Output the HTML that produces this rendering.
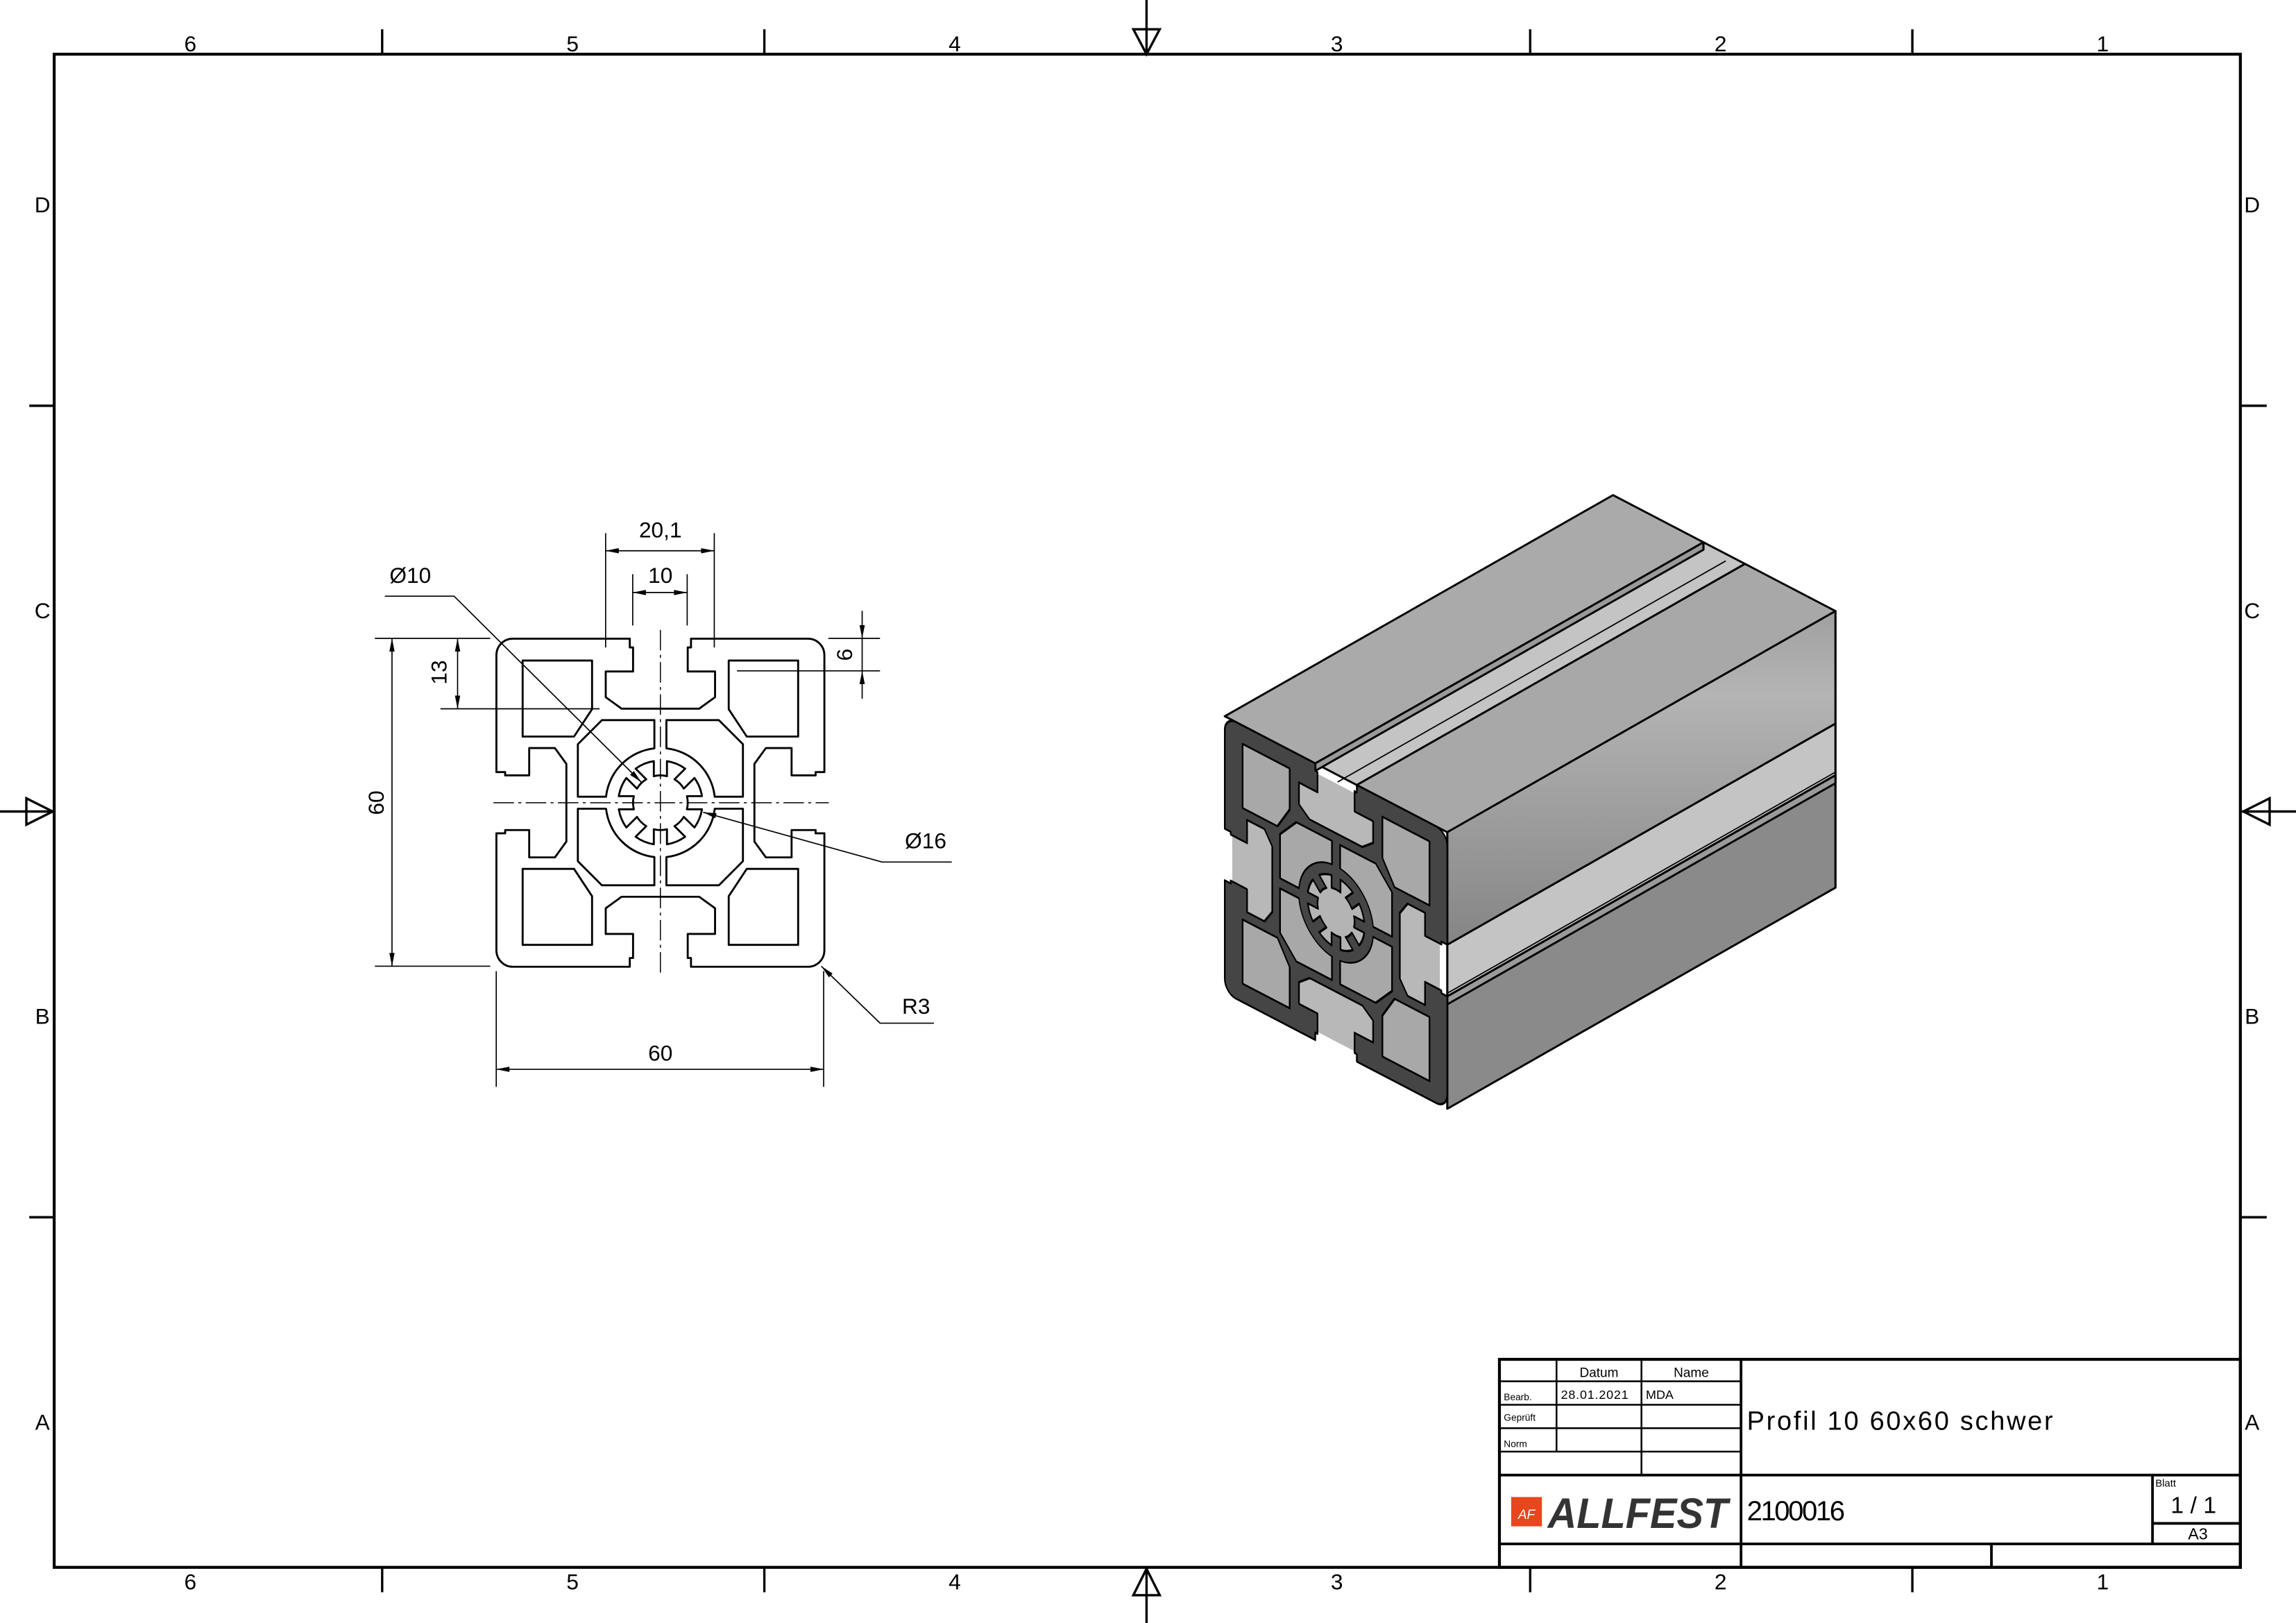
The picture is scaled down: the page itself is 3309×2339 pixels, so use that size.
<!DOCTYPE html>
<html><head><meta charset="utf-8"><style>
html,body{margin:0;padding:0;background:#fff}
svg{display:block}
text{font-family:"Liberation Sans","DejaVu Sans",sans-serif;fill:#000}
</style></head><body>
<svg width="3309" height="2339" viewBox="0 0 1568 1108" preserveAspectRatio="none" xmlns="http://www.w3.org/2000/svg">
<rect width="1568" height="1108" fill="#fff"/>
<g stroke="#000" fill="none">
<rect x="37" y="37" width="1493" height="1033" stroke-width="2"/>
<g stroke-width="1.6">
<line x1="261" y1="20" x2="261" y2="37"/><line x1="522" y1="20" x2="522" y2="37"/><line x1="1045" y1="20" x2="1045" y2="37"/><line x1="1306" y1="20" x2="1306" y2="37"/>
<line x1="261" y1="1070" x2="261" y2="1087"/><line x1="522" y1="1070" x2="522" y2="1087"/><line x1="1045" y1="1070" x2="1045" y2="1087"/><line x1="1306" y1="1070" x2="1306" y2="1087"/>
<line x1="20" y1="277" x2="37" y2="277"/><line x1="20" y1="831" x2="37" y2="831"/>
<line x1="1530" y1="277" x2="1548" y2="277"/><line x1="1530" y1="831" x2="1548" y2="831"/>
<line x1="783" y1="0" x2="783" y2="37"/><polygon points="774,20 792,20 783,37"/>
<line x1="783" y1="1070" x2="783" y2="1108"/><polygon points="774,1089 792,1089 783,1071"/>
<line x1="0" y1="554" x2="37" y2="554"/><polygon points="18,545 18,563 36,554"/>
<line x1="1530" y1="554" x2="1568" y2="554"/><polygon points="1550,545 1550,563 1532,554"/>
</g></g>
<g font-size="15" text-anchor="middle">
<text x="130" y="35">6</text><text x="391" y="35">5</text><text x="652" y="35">4</text><text x="913" y="35">3</text><text x="1175" y="35">2</text><text x="1436" y="35">1</text>
<text x="130" y="1085">6</text><text x="391" y="1085">5</text><text x="652" y="1085">4</text><text x="913" y="1085">3</text><text x="1175" y="1085">2</text><text x="1436" y="1085">1</text>
<text x="29" y="145">D</text><text x="29" y="422">C</text><text x="29" y="699">B</text><text x="29" y="976">A</text>
<text x="1538" y="145">D</text><text x="1538" y="422">C</text><text x="1538" y="699">B</text><text x="1538" y="976">A</text>
</g>

<defs>
<path id="outer" d="M -27,-30 L -5.6,-30 L -5.6,-28.4 L -5,-28.4 L -5,-24 L -10,-24 L -10,-19.3 L -7.1,-17.2 L 7.1,-17.2 L 10,-19.3 L 10,-24 L 5,-24 L 5,-28.4 L 5.6,-28.4 L 5.6,-30 L 27,-30 A 3 3 0 0 1 30,-27
L 30,-5.6 L 28.4,-5.6 L 28.4,-5 L 24,-5 L 24,-10 L 19.3,-10 L 17.2,-7.1 L 17.2,7.1 L 19.3,10 L 24,10 L 24,5 L 28.4,5 L 28.4,5.6 L 30,5.6 L 30,27 A 3 3 0 0 1 27,30
L 5.6,30 L 5.6,28.4 L 5,28.4 L 5,24 L 10,24 L 10,19.3 L 7.1,17.2 L -7.1,17.2 L -10,19.3 L -10,24 L -5,24 L -5,28.4 L -5.6,28.4 L -5.6,30 L -27,30 A 3 3 0 0 1 -30,27
L -30,5.6 L -28.4,5.6 L -28.4,5 L -24,5 L -24,10 L -19.3,10 L -17.2,7.1 L -17.2,-7.1 L -19.3,-10 L -24,-10 L -24,-5 L -28.4,-5 L -28.4,-5.6 L -30,-5.6 L -30,-27 A 3 3 0 0 1 -27,-30 Z"/>
<path id="holes" d="M -25.2,-26 L -12.5,-26 L -12.5,-17.1 L -15.8,-12.1 L -25.2,-12.1 Z
M 25.2,-26 L 12.5,-26 L 12.5,-17.1 L 15.8,-12.1 L 25.2,-12.1 Z
M -25.2,26 L -12.5,26 L -12.5,17.1 L -15.8,12.1 L -25.2,12.1 Z
M 25.2,26 L 12.5,26 L 12.5,17.1 L 15.8,12.1 L 25.2,12.1 Z
M -1.1,-15.1 L -10.7,-15.1 L -15.1,-10.7 L -15.1,-1.1 L -9.94,-1.1 A 10 10 0 0 1 -1.1,-9.94 Z
M 1.1,-15.1 L 10.7,-15.1 L 15.1,-10.7 L 15.1,-1.1 L 9.94,-1.1 A 10 10 0 0 0 1.1,-9.94 Z
M -1.1,15.1 L -10.7,15.1 L -15.1,10.7 L -15.1,1.1 L -9.94,1.1 A 10 10 0 0 0 -1.1,9.94 Z
M 1.1,15.1 L 10.7,15.1 L 15.1,10.7 L 15.1,1.1 L 9.94,1.1 A 10 10 0 0 1 1.1,9.94 Z"/>
<path id="star" d="M 7.606,-1.2 L 4.854,-1.2 A 5 5 0 0 1 4.854,1.2 L 7.606,1.2 A 7.7 7.7 0 0 1 6.227,4.530
L 4.281,2.584 A 5 5 0 0 1 2.584,4.281 L 4.530,6.227 A 7.7 7.7 0 0 1 1.2,7.606
L 1.2,4.854 A 5 5 0 0 1 -1.2,4.854 L -1.2,7.606 A 7.7 7.7 0 0 1 -4.530,6.227
L -2.584,4.281 A 5 5 0 0 1 -4.281,2.584 L -6.227,4.530 A 7.7 7.7 0 0 1 -7.606,1.2
L -4.854,1.2 A 5 5 0 0 1 -4.854,-1.2 L -7.606,-1.2 A 7.7 7.7 0 0 1 -6.227,-4.530
L -4.281,-2.584 A 5 5 0 0 1 -2.584,-4.281 L -4.530,-6.227 A 7.7 7.7 0 0 1 -1.2,-7.606
L -1.2,-4.854 A 5 5 0 0 1 1.2,-4.854 L 1.2,-7.606 A 7.7 7.7 0 0 1 4.530,-6.227
L 2.584,-4.281 A 5 5 0 0 1 4.281,-2.584 L 6.227,-4.530 A 7.7 7.7 0 0 1 7.606,-1.2 Z"/>
<linearGradient id="gR" x1="0" y1="0" x2="0" y2="1">
<stop offset="0" stop-color="#a0a0a0"/><stop offset="0.25" stop-color="#b4b4b4"/><stop offset="1" stop-color="#858585"/>
</linearGradient>
</defs>

<g transform="translate(451,548) scale(3.733)" fill="none" stroke="#000" stroke-width="0.36" stroke-linejoin="round">
<use href="#outer"/><use href="#holes"/><use href="#star"/>
</g>
<g stroke="#000" stroke-width="0.7" stroke-dasharray="14 3 2 3">
<line x1="451" y1="430" x2="451" y2="664"/>
<line x1="337" y1="548" x2="566" y2="548"/>
</g>
<g stroke="#000" stroke-width="0.8" fill="none">
<line x1="413.6" y1="364" x2="413.6" y2="442"/><line x1="487.8" y1="364" x2="487.8" y2="442"/>
<line x1="413.6" y1="376" x2="487.8" y2="376"/>
<line x1="432.1" y1="392" x2="432.1" y2="427"/><line x1="469.3" y1="392" x2="469.3" y2="427"/>
<line x1="432.1" y1="404.5" x2="469.3" y2="404.5"/>
<line x1="588.8" y1="417" x2="588.8" y2="477"/>
<line x1="565.7" y1="435.8" x2="601" y2="435.8"/><line x1="503.3" y1="458" x2="601" y2="458"/>
<line x1="312.5" y1="435.8" x2="312.5" y2="483.9"/>
<line x1="300.8" y1="483.9" x2="409.5" y2="483.9"/>
<line x1="256" y1="435.8" x2="334.8" y2="435.8"/><line x1="256" y1="659.6" x2="334.8" y2="659.6"/>
<line x1="267.7" y1="435.8" x2="267.7" y2="659.6"/>
<line x1="338.9" y1="663" x2="338.9" y2="742"/><line x1="562.5" y1="663" x2="562.5" y2="742"/>
<line x1="338.9" y1="730" x2="562.5" y2="730"/>
<polyline points="262.8,407 310.1,407 438,534"/>
<polyline points="650,588.5 602.4,588.5 480.2,554.5"/>
<polyline points="637.8,698.5 601,698.5 560.9,659.6"/>
</g>
<g fill="#000">
<polygon points="413.6,376 422.6,374.2 422.6,377.8"/><polygon points="487.8,376 478.8,374.2 478.8,377.8"/>
<polygon points="432.1,404.5 441.1,402.7 441.1,406.3"/><polygon points="469.3,404.5 460.3,402.7 460.3,406.3"/>
<polygon points="588.8,435.8 587,426.8 590.6,426.8"/><polygon points="588.8,458 587,467 590.6,467"/>
<polygon points="312.5,435.8 310.7,444.8 314.3,444.8"/><polygon points="312.5,483.9 310.7,474.9 314.3,474.9"/>
<polygon points="267.7,435.8 265.9,444.8 269.5,444.8"/><polygon points="267.7,659.6 265.9,650.6 269.5,650.6"/>
<polygon points="338.9,730 347.9,728.2 347.9,731.8"/><polygon points="562.5,730 553.5,728.2 553.5,731.8"/>
<polygon points="438,534 430.3,529 432.9,526.4"/>
<polygon points="480.2,554.5 489.4,555.2 488.4,558.6"/>
<polygon points="560.9,659.6 568.6,664.6 566.1,667.2"/>
</g>
<g font-size="15">
<text x="451" y="367" text-anchor="middle">20,1</text>
<text x="451" y="398" text-anchor="middle">10</text>
<text x="451" y="724" text-anchor="middle">60</text>
<text x="266" y="398">Ø10</text>
<text x="618" y="579">Ø16</text>
<text x="616" y="692">R3</text>
<text transform="translate(262,548) rotate(-90)" text-anchor="middle">60</text>
<text transform="translate(305,459) rotate(-90)" text-anchor="middle">13</text>
<text transform="translate(582,447) rotate(-90)" text-anchor="middle">6</text>
</g>

<!-- 3D view -->
<g transform="translate(824.6,332.6) scale(0.2962,0.272)" stroke="#000" stroke-width="5" stroke-linejoin="round">
<polygon points="248.6,693.2 344.4,747.5 1239.4,192.5 1143.6,138.2" fill="#c4c4c4"/>
<line x1="300" y1="740" x2="1195" y2="185" stroke-width="3"/>
<polygon points="553,1148.2 553,1278 1448,723 1448,593.2" fill="#c4c4c4"/>
<line x1="553" y1="1270" x2="1448" y2="715" stroke-width="3"/>
<polygon points="40,574.9 248.6,693.2 1143.6,138.2 935,19.9" fill="#aaaaaa"/>
<polygon points="248.6,693.2 248.6,712 1143.6,157 1143.6,138.2" fill="#999"/>
<polygon points="344.4,747.5 553,865.9 1448,310.9 1239.4,192.5" fill="#a8a8a8"/>
<polygon points="553,865.9 553,1148.2 1448,593.2 1448,310.9" fill="url(#gR)"/>
<polygon points="553,1278 553,1560.1 1448,1005.1 1448,723" fill="#8a8a8a"/>
<polygon points="553,1278 553,1298 1448,743 1448,723" fill="#9a9a9a"/>
</g>
<g transform="translate(824.6,332.6) scale(0.2962,0.272)">
<g transform="matrix(8.55,4.85,0,11.57,296.5,1067.5)" stroke="#000" stroke-width="0.45" stroke-linejoin="round">
<rect x="-28" y="-28" width="56" height="56" fill="#b8b8b8" stroke="none"/>
<use href="#outer" fill="#454545"/>
<use href="#holes" fill="#a8a8a8"/>
<circle r="9.9" fill="#454545" stroke="none"/>
<use href="#star" fill="#b4b4b4"/>
</g>
</g>

<!-- title block -->
<g stroke="#000" fill="none">
<rect x="1024" y="928" width="506" height="142" stroke-width="2"/>
<g stroke-width="1.2">
<line x1="1024" y1="943" x2="1189" y2="943"/>
<line x1="1024" y1="959" x2="1189" y2="959"/>
<line x1="1024" y1="975" x2="1189" y2="975"/>
<line x1="1024" y1="991" x2="1189" y2="991"/>
<line x1="1063" y1="928" x2="1063" y2="991"/>
<line x1="1121" y1="928" x2="1121" y2="1007"/>
</g>
<g stroke-width="1.8">
<line x1="1024" y1="1007" x2="1530" y2="1007"/>
<line x1="1024" y1="1054" x2="1530" y2="1054"/>
<line x1="1189" y1="928" x2="1189" y2="1070"/>
<line x1="1360" y1="1054" x2="1360" y2="1070"/>
<line x1="1470" y1="1007" x2="1470" y2="1054"/>
<line x1="1470" y1="1040" x2="1530" y2="1040"/>
</g></g>
<g>
<text x="1092" y="940" font-size="9" text-anchor="middle">Datum</text>
<text x="1155" y="940" font-size="9" text-anchor="middle">Name</text>
<text x="1027" y="956" font-size="6.5">Bearb.</text>
<text x="1066" y="955" font-size="8.5" textLength="46">28.01.2021</text>
<text x="1124" y="955" font-size="8.5">MDA</text>
<text x="1027" y="970" font-size="6.5">Geprüft</text>
<text x="1027" y="988" font-size="6.5">Norm</text>
<text x="1193" y="976" font-size="18" textLength="209">Profil 10 60x60 schwer</text>
<text x="1193" y="1038" font-size="19" textLength="67">2100016</text>
<text x="1472" y="1015" font-size="7">Blatt</text>
<text x="1498" y="1033" font-size="16" text-anchor="middle">1 / 1</text>
<text x="1501" y="1051" font-size="11" text-anchor="middle">A3</text>
<rect x="1032" y="1022" width="21" height="20" fill="#e8461e"/>
<text x="1042.5" y="1037" font-size="9" text-anchor="middle" font-style="italic" style="fill:#fff">AF</text>
<text x="1057" y="1043" font-size="29" font-weight="bold" font-style="italic" textLength="123" lengthAdjust="spacingAndGlyphs" style="fill:#333">ALLFEST</text>
</g>
</svg>
</body></html>
